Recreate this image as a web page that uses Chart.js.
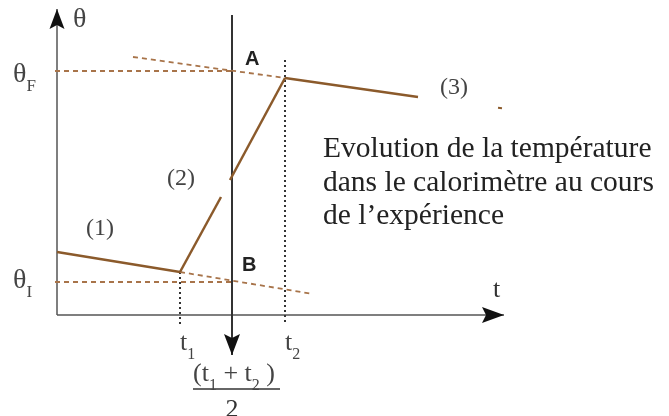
<!DOCTYPE html>
<html><head><meta charset="utf-8">
<script src="https://cdn.jsdelivr.net/npm/chart.js@4/dist/chart.umd.min.js"></script>
<style>html,body{margin:0;padding:0;background:#fff;}canvas{display:block;}</style>
</head><body>
<canvas id="c" width="669" height="416"></canvas>
<script>
// Schematic units: t (time) on x, θ (temperature) on y
const phase1 = [[0, 6.3], [12.3, 4.3]];
const phase2Low = [[12.3, 4.3], [16.4, 11.8]];
const phase2High = [[17.3, 13.5], [22.8, 23.7]];
const phase3 = [[22.8, 23.7], [36.1, 21.8]];
const phase3Tail = [[44.1, 20.72], [44.5, 20.68]];
const thetaFLine = [[-0.2, 24.4], [17.5, 24.4]];
const thetaILine = [[-0.2, 3.3], [17.5, 3.3]];
const extrap3 = [[7.6, 25.8], [22.8, 23.7]];
const extrap1 = [[12.3, 4.3], [25.6, 2.1]];
const t1Line = [[12.3, 4.3], [12.3, -1.0]];
const t2Line = [[22.8, 25.5], [22.8, -0.7]];
const midLine = [[17.5, 30.0], [17.5, -4.0]];
const timeAxis = [[0, 0], [44.7, 0]];
const tempAxis = [[0, 0], [0, 30.6]];
const fractionBar = [[13.6, -7.4], [22.3, -7.4]];

const SERIF = '"Liberation Serif","Times New Roman",serif';
const SANS = '"Liberation Sans",Arial,sans-serif';
const textLabels = [
  {parts: [['θ', 0]], at: [1.6, 28.8], size: 28, color: '#444'},
  {parts: [['θ', 0], ['F', 1]], at: [-4.4, 23.3], size: 28, color: '#444'},
  {parts: [['θ', 0], ['I', 1]], at: [-4.4, 2.7], size: 28, color: '#444'},
  {parts: [['A', 0]], at: [18.8, 25.0], size: 20, color: '#222', family: SANS, bold: true},
  {parts: [['B', 0]], at: [18.5, 4.4], size: 20, color: '#222', family: SANS, bold: true},
  {parts: [['(1)', 0]], at: [2.9, 8.0], size: 24, color: '#444'},
  {parts: [['(2)', 0]], at: [11.0, 13.0], size: 24, color: '#444'},
  {parts: [['(3)', 0]], at: [38.3, 22.1], size: 24, color: '#444'},
  {parts: [['t', 0]], at: [43.6, 1.8], size: 26, color: '#333'},
  {parts: [['t', 0], ['1', 1]], at: [12.3, -3.5], size: 26, color: '#444'},
  {parts: [['t', 0], ['2', 1]], at: [22.8, -3.5], size: 26, color: '#444'},
  {parts: [['(t', 0], ['1', 1], [' + t', 0], ['2', 1], [' )', 0]], at: [13.6, -6.6], size: 26, color: '#444'},
  {parts: [['2', 0]], at: [17.5, -10.2], size: 26, color: '#333', align: 'center'},
  {parts: [['Evolution de la température', 0]], at: [26.6, 15.8], size: 29.5, color: '#222'},
  {parts: [['dans le calorimètre au cours', 0]], at: [26.6, 12.4], size: 29.5, color: '#222'},
  {parts: [['de l’expérience', 0]], at: [26.6, 9.1], size: 29.5, color: '#222'}
];

const pts = a => a.map(p => ({x: p[0], y: p[1]}));
const BROWN = '#8b5a2b';
const DASHBROWN = '#a8744a';
function ds(arr, color, width, dash, extra) {
  return Object.assign({data: pts(arr), showLine: true, borderColor: color, backgroundColor: color,
    borderWidth: width, borderDash: dash || [], pointRadius: 0, tension: 0, fill: false}, extra || {});
}

const arrowPlugin = {
  id: 'arrows',
  afterDatasetsDraw(chart) {
    const ctx = chart.ctx;
    chart.data.datasets.forEach((d, i) => {
      if (!d.arrow) return;
      const m = chart.getDatasetMeta(i).data;
      const a = m[m.length - 2], b = m[m.length - 1];
      const ang = Math.atan2(b.y - a.y, b.x - a.x);
      const L = d.arrow.len, W = d.arrow.wid;
      ctx.save();
      ctx.translate(b.x, b.y); ctx.rotate(ang);
      ctx.beginPath();
      ctx.moveTo(0, 0); ctx.lineTo(-L, -W / 2); ctx.lineTo(-L + 4, 0); ctx.lineTo(-L, W / 2);
      ctx.closePath();
      ctx.fillStyle = '#111'; ctx.fill();
      ctx.restore();
    });
    const xs = chart.scales.x, ys = chart.scales.y;
    textLabels.forEach(l => {
      const fam = l.family || SERIF;
      let x = xs.getPixelForValue(l.at[0]);
      const y = ys.getPixelForValue(l.at[1]);
      ctx.save();
      ctx.fillStyle = l.color; ctx.textBaseline = 'alphabetic'; ctx.textAlign = 'left';
      if (l.align === 'center') {
        ctx.font = (l.bold ? 'bold ' : '') + l.size + 'px ' + fam;
        x -= ctx.measureText(l.parts.map(p => p[0]).join('')).width / 2;
      }
      l.parts.forEach(p => {
        const s = p[1] ? Math.round(l.size * 0.6) : l.size;
        ctx.font = (l.bold ? 'bold ' : '') + s + 'px ' + fam;
        ctx.fillText(p[0], x, y + (p[1] ? l.size * 0.33 : 0));
        x += ctx.measureText(p[0]).width;
      });
      ctx.restore();
    });
  }
};

new Chart(document.getElementById('c'), {
  type: 'scatter',
  data: {datasets: [
    ds(phase1, BROWN, 2.5),
    ds(phase2Low, BROWN, 2.5),
    ds(phase2High, BROWN, 2.5),
    ds(phase3, BROWN, 2.5),
    ds(phase3Tail, BROWN, 2),
    ds(thetaFLine, DASHBROWN, 1.8, [5, 4]),
    ds(thetaILine, DASHBROWN, 1.8, [5, 4]),
    ds(extrap3, DASHBROWN, 1.8, [5, 4]),
    ds(extrap1, DASHBROWN, 1.8, [5, 4]),
    ds(t1Line, '#333', 2, [2, 3]),
    ds(t2Line, '#333', 2, [2, 3]),
    ds(midLine, '#333', 2, [], {arrow: {len: 21, wid: 16}}),
    ds(timeAxis, '#555', 1.5, [], {arrow: {len: 22, wid: 16}}),
    ds(tempAxis, '#555', 1.5, [], {arrow: {len: 20, wid: 15}}),
    ds(fractionBar, '#666', 2)
  ]},
  options: {
    responsive: false, animation: false, devicePixelRatio: 1,
    layout: {padding: 0},
    plugins: {legend: {display: false}, tooltip: {enabled: false}},
    scales: {
      x: {type: 'linear', min: -5.7, max: 61.2, display: false},
      y: {type: 'linear', min: -10.1, max: 31.5, display: false}
    }
  },
  plugins: [arrowPlugin]
});
</script>
</body></html>
